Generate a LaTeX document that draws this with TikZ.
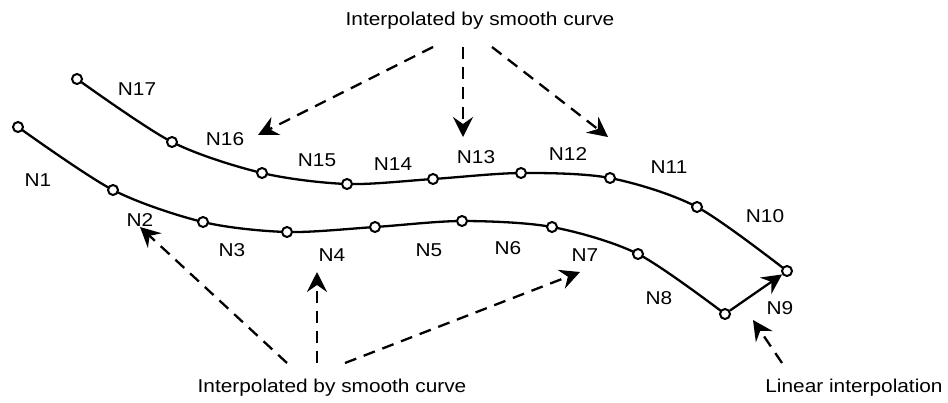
\documentclass[tikz,border=0pt]{standalone}
\usepackage{fontspec}
\setmainfont{Liberation Sans}[FakeStretch=1.12]
\usetikzlibrary{arrows.meta, backgrounds}

\begin{document}
\begin{tikzpicture}[x=0.5pt, y=-0.5pt,
  pt/.style={draw, circle, fill=white, line width=1pt, inner sep=0pt, minimum size=5pt},
  lbl/.style={font=\fontsize{9.3}{11}\selectfont, inner sep=1pt},
  curve/.style={line width=1.15pt},
  tip/.style={-{Stealth[length=10pt, width=10pt, inset=3.5pt]}},
  dasharrow/.style={line width=1.15pt, dash pattern=on 6pt off 4pt, tip}
]
  \useasboundingbox (0,0) rectangle (948,402);

  % lower curve
  \node[pt] (a1) at (18,127) {};
  \node[pt] (a2) at (113,190) {};
  \node[pt] (a3) at (203,222) {};
  \node[pt] (a4) at (287,232) {};
  \node[pt] (a5) at (375,227) {};
  \node[pt] (a6) at (462,221) {};
  \node[pt] (a7) at (552,227) {};
  \node[pt] (a8) at (638,254) {};
  \node[pt] (a9) at (725,314) {};

  % upper curve
  \node[pt] (b1) at (787,271) {};
  \node[pt] (b2) at (697,207) {};
  \node[pt] (b3) at (610,178) {};
  \node[pt] (b4) at (521,173) {};
  \node[pt] (b5) at (433,179) {};
  \node[pt] (b6) at (347,184) {};
  \node[pt] (b7) at (262,173) {};
  \node[pt] (b8) at (172,142) {};
  \node[pt] (b9) at (77,79) {};

  \begin{pgfonlayer}{background}
    \draw[curve] plot[smooth] coordinates {(a1.center) (a2.center) (a3.center) (a4.center) (a5.center) (a6.center) (a7.center) (a8.center) (a9.center)};
    \draw[curve] plot[smooth] coordinates {(b1.center) (b2.center) (b3.center) (b4.center) (b5.center) (b6.center) (b7.center) (b8.center) (b9.center)};
  \end{pgfonlayer}
  \draw[curve, tip] (a9) -- (b1);

  \node[lbl] (n1) at (38,180) {N1};
  \node[lbl] (n2) at (140,220) {N2};
  \node[lbl] (n3) at (232,250) {N3};
  \node[lbl] (n4) at (332,255) {N4};
  \node[lbl] (n5) at (429,250) {N5};
  \node[lbl] (n6) at (508,248) {N6};
  \node[lbl] (n7) at (585,255) {N7};
  \node[lbl] (n8) at (659,298) {N8};
  \node[lbl] (n9) at (780,308) {N9};
  \node[lbl] (n10) at (765,216) {N10};
  \node[lbl] (n11) at (669,167) {N11};
  \node[lbl] (n12) at (568,154) {N12};
  \node[lbl] (n13) at (476,157) {N13};
  \node[lbl] (n14) at (393,164) {N14};
  \node[lbl] (n15) at (317,160) {N15};
  \node[lbl] (n16) at (225,139) {N16};
  \node[lbl] (n17) at (137,89) {N17};

  \node[lbl] (top) at (480,21) {Interpolated by smooth curve};
  \node[lbl] (bottom) at (332,388) {Interpolated by smooth curve};
  \node[lbl] (linear) at (854,388) {Linear interpolation};

  \coordinate (t1) at (258,135);
  \coordinate (t2) at (463,137);
  \coordinate (t3) at (608,137);
  \coordinate (t4) at (140,227);
  \coordinate (t5) at (317,272);
  \coordinate (t6) at (580,272);
  \coordinate (t7) at (753,320);

  \draw[dasharrow] (433,47) -- (t1);
  \draw[dasharrow] (463,47) -- (t2);
  \draw[dasharrow] (492,47) -- (t3);
  \draw[dasharrow] (287,363) -- (t4);
  \draw[dasharrow] (317,363) -- (t5);
  \draw[dasharrow] (345,363) -- (t6);
  \draw[dasharrow] (782,363) -- (t7);
\end{tikzpicture}
\end{document}
